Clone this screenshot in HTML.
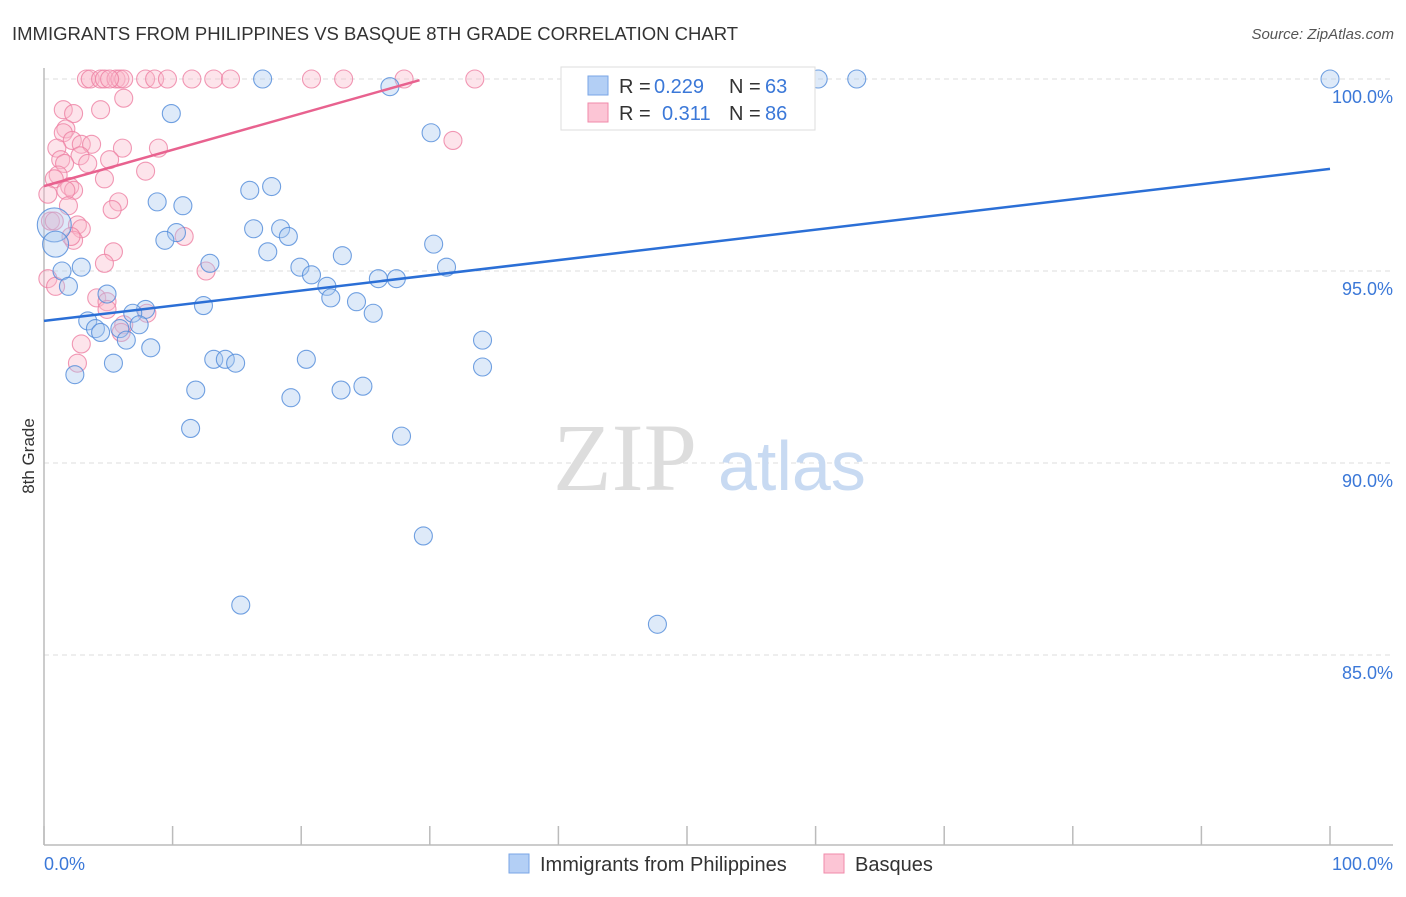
<!DOCTYPE html>
<html><head><meta charset="utf-8"><style>
body{margin:0;background:#fff;font-family:"Liberation Sans",sans-serif}
</style></head><body>
<svg width="1406" height="892" xmlns="http://www.w3.org/2000/svg" font-family="Liberation Sans, sans-serif">
<text x="12" y="40" font-size="18.5" fill="#333">IMMIGRANTS FROM PHILIPPINES VS BASQUE 8TH GRADE CORRELATION CHART</text>
<text x="1394" y="39" font-size="15" fill="#555" text-anchor="end" font-style="italic">Source: ZipAtlas.com</text>
<g id="grid"></g>
<line x1="44" y1="68" x2="44" y2="845" stroke="#bbb" stroke-width="1.5"/>
<line x1="44" y1="845" x2="1393" y2="845" stroke="#bbb" stroke-width="1.5"/>
<g id="xticks"></g>
<g id="ylabels"></g>
<text x="44" y="870" font-size="18" fill="#3b78d8">0.0%</text>
<text x="1393" y="870" font-size="18" fill="#3b78d8" text-anchor="end">100.0%</text>
<text transform="translate(34,456) rotate(-90)" font-size="17" fill="#333" text-anchor="middle">8th Grade</text>
<g><text x="553" y="490" font-size="96" font-family="Liberation Serif, serif" fill="#ddd">ZIP</text><text x="718" y="490" font-size="70" fill="#c8daf2">atlas</text></g>
<g id="pts"></g>
<g id="lines"></g>
<g>
<rect x="561" y="67" width="254" height="63" fill="#fff" stroke="#ddd"/>
<rect x="588" y="76" width="20" height="19" fill="#b3cff5" stroke="#7aa6e6"/>
<rect x="588" y="103" width="20" height="19" fill="#fcc5d5" stroke="#f08aaa"/>
<text x="619" y="93" font-size="20" fill="#333">R =</text>
<text x="654" y="93" font-size="20" fill="#3b78d8">0.229</text>
<text x="729" y="93" font-size="20" fill="#333">N =</text>
<text x="765" y="93" font-size="20" fill="#3b78d8">63</text>
<text x="619" y="120" font-size="20" fill="#333">R =</text>
<text x="662" y="120" font-size="20" fill="#3b78d8">0.311</text>
<text x="729" y="120" font-size="20" fill="#333">N =</text>
<text x="765" y="120" font-size="20" fill="#3b78d8">86</text>
</g>
<g>
<rect x="509" y="854" width="20" height="19" fill="#b3cff5" stroke="#7aa6e6"/>
<text x="540" y="871" font-size="20" fill="#333">Immigrants from Philippines</text>
<rect x="824" y="854" width="20" height="19" fill="#fcc5d5" stroke="#f08aaa"/>
<text x="855" y="871" font-size="20" fill="#333">Basques</text>
</g>
</svg>
<script>
const yTicks=[100,95,90,85];
const yTickLabels=["100.0%","95.0%","90.0%","85.0%"];
const xTicks=[0,10,20,30,40,50,60,70,80,90,100];
const blueX=[17.0,60.2,63.2,100,26.9,9.9,30.1,17.7,16.0,8.8,10.8,16.3,18.4,10.3,19.0,9.4,30.3,17.4,23.2,12.9,2.9,19.9,31.3,1.4,20.8,26.0,27.4,1.9,22.0,4.9,22.3,24.3,12.4,7.9,6.9,25.6,3.4,4.0,4.4,7.4,5.9,6.4,34.1,8.3,13.2,14.1,14.9,20.4,5.4,34.1,2.4,11.8,24.8,23.1,19.2,11.4,27.8,29.5,15.3,47.7];
const blueY=[100,100,100,100,99.8,99.1,98.6,97.2,97.1,96.8,96.7,96.1,96.1,96.0,95.9,95.8,95.7,95.5,95.4,95.2,95.1,95.1,95.1,95.0,94.9,94.8,94.8,94.6,94.6,94.4,94.3,94.2,94.1,94.0,93.9,93.9,93.7,93.5,93.4,93.6,93.5,93.2,93.2,93.0,92.7,92.7,92.6,92.7,92.6,92.5,92.3,91.9,92.0,91.9,91.7,90.9,90.7,88.1,86.3,85.8];
const blueBigX=[0.8,0.9];
const blueBigY=[96.2,95.7];
const pinkX=[3.3,3.6,4.4,4.7,5.6,5.9,6.2,7.9,8.6,9.6,11.5,13.2,14.5,20.8,23.3,28.0,33.5,5.1,6.2,1.5,2.3,4.4,1.7,1.5,2.2,2.9,3.7,6.1,8.9,31.8,1.0,2.8,1.3,5.1,3.4,1.6,7.9,1.1,0.8,4.7,2.0,2.3,1.7,0.3,5.8,5.3,1.9,0.5,2.6,2.9,0.8,2.3,2.1,10.9,5.4,4.7,12.6,0.3,0.9,4.1,4.9,4.9,8.0,6.2,6.0,2.9,2.6];
const pinkY=[100,100,100,100,100,100,100,100,100,100,100,100,100,100,100,100,100,100,99.5,99.2,99.1,99.2,98.7,98.6,98.4,98.3,98.3,98.2,98.2,98.4,98.2,98.0,97.9,97.9,97.8,97.8,97.6,97.5,97.4,97.4,97.2,97.1,97.1,97.0,96.8,96.6,96.7,96.3,96.2,96.1,96.3,95.8,95.9,95.9,95.5,95.2,95.0,94.8,94.6,94.3,94.2,94.0,93.9,93.6,93.4,93.1,92.6];
const blueTrend=[[0,93.7],[100,97.66]];
const pinkTrend=[[0,97.21],[29.2,99.97]];
const NS="http://www.w3.org/2000/svg";
const sx=v=>44+v*12.86;
const sy=v=>79+(100-v)*38.4;
function mk(t,a,p){const e=document.createElementNS(NS,t);for(const k in a)e.setAttribute(k,a[k]);p.appendChild(e);return e;}
const grid=document.getElementById('grid'),yl=document.getElementById('ylabels'),xt=document.getElementById('xticks');
yTicks.forEach((v,i)=>{
 const l=mk('line',{x1:44,x2:1393,y1:sy(v),y2:sy(v),stroke:'#ddd','stroke-dasharray':'5,4'},grid);
 
 
 const t=mk('text',{x:1393,y:sy(v)+24,'font-size':18,fill:'#3b78d8','text-anchor':'end'},yl);
 t.textContent=yTickLabels[i];
 
 
});
xTicks.forEach(v=>{
 const l=mk('line',{x1:sx(v),x2:sx(v),y1:826,y2:845,stroke:'#bbb','stroke-width':1.5},xt);
 
 
});
const pts=document.getElementById('pts');
function dot(x,y,r,fill,stroke,name){
 const c=mk('circle',{cx:sx(x),cy:sy(y),r:r,fill:fill,'fill-opacity':0.38,stroke:stroke,'stroke-width':1.1,'stroke-opacity':0.8},pts);
 
 
}
pinkX.forEach((x,i)=>dot(x,pinkY[i],9,'#f9b7cb','#ee7fa3','basques-point'));
blueX.forEach((x,i)=>dot(x,blueY[i],9,'#a9c8f0','#4f8ad9','philippines-point'));
blueBigX.forEach((x,i)=>dot(x,blueBigY[i],i==0?17:13,'#a9c8f0','#4f8ad9','philippines-point'));
const lines=document.getElementById('lines');
const bl=mk('line',{x1:sx(blueTrend[0][0]),y1:sy(blueTrend[0][1]),x2:sx(blueTrend[1][0]),y2:sy(blueTrend[1][1]),stroke:'#2b6fd6','stroke-width':2.5},lines);


const pl=mk('line',{x1:sx(pinkTrend[0][0]),y1:sy(pinkTrend[0][1]),x2:sx(pinkTrend[1][0]),y2:sy(pinkTrend[1][1]),stroke:'#e8628f','stroke-width':2.5},lines);


</script>
</body></html>
